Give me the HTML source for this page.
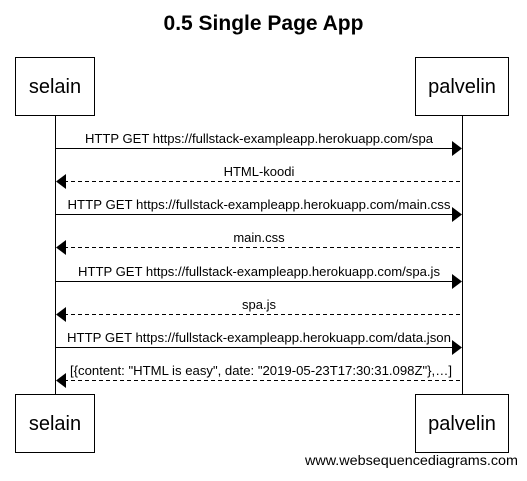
<!DOCTYPE html>
<html><head><style>body{margin:0;background:#fff}</style></head><body>
<svg width="527" height="476" xmlns="http://www.w3.org/2000/svg" font-family="Liberation Sans, Arial, sans-serif">
<rect width="527" height="476" fill="#fff"/>
<text x="263.5" y="30" font-size="21" font-weight="bold" text-anchor="middle">0.5 Single Page App</text>
<g stroke="#000" stroke-width="1" fill="#fff">
<rect x="15.5" y="57.5" width="79" height="58"/>
<rect x="415.5" y="57.5" width="93" height="58"/>
<rect x="15.5" y="394.5" width="79" height="58"/>
<rect x="415.5" y="394.5" width="93" height="58"/>
<line x1="55.5" y1="115.5" x2="55.5" y2="394.5"/>
<line x1="462.5" y1="115.5" x2="462.5" y2="394.5"/>
</g>
<g font-size="20" text-anchor="middle">
<text x="55" y="93">selain</text><text x="462" y="93">palvelin</text>
<text x="55" y="430">selain</text><text x="462" y="430">palvelin</text>
</g>
<g stroke="#000" stroke-width="1">
<line x1="55.5" y1="148.5" x2="453" y2="148.5"/>
<line x1="64" y1="181.5" x2="462.5" y2="181.5" stroke-dasharray="4,3"/>
<line x1="55.5" y1="214.5" x2="453" y2="214.5"/>
<line x1="64" y1="247.5" x2="462.5" y2="247.5" stroke-dasharray="4,3"/>
<line x1="55.5" y1="281.5" x2="453" y2="281.5"/>
<line x1="64" y1="314.5" x2="462.5" y2="314.5" stroke-dasharray="4,3"/>
<line x1="55.5" y1="347.5" x2="453" y2="347.5"/>
<line x1="64" y1="380.5" x2="462.5" y2="380.5" stroke-dasharray="4,3"/>
</g>
<g fill="#000">
<polygon points="452,141 462,148.5 452,156"/>
<polygon points="66,174 56,181.5 66,189"/>
<polygon points="452,207 462,214.5 452,222"/>
<polygon points="66,240 56,247.5 66,255"/>
<polygon points="452,274 462,281.5 452,289"/>
<polygon points="66,307 56,314.5 66,322"/>
<polygon points="452,340 462,347.5 452,355"/>
<polygon points="66,373 56,380.5 66,388"/>
</g>
<g font-size="13" text-anchor="middle">
<text x="259" y="143" textLength="348" lengthAdjust="spacingAndGlyphs">HTTP GET https://fullstack-exampleapp.herokuapp.com/spa</text>
<text x="259" y="176">HTML-koodi</text>
<text x="259" y="209" textLength="383" lengthAdjust="spacingAndGlyphs">HTTP GET https://fullstack-exampleapp.herokuapp.com/main.css</text>
<text x="259" y="242">main.css</text>
<text x="259" y="276" textLength="362" lengthAdjust="spacingAndGlyphs">HTTP GET https://fullstack-exampleapp.herokuapp.com/spa.js</text>
<text x="259" y="309">spa.js</text>
<text x="259" y="342" textLength="384" lengthAdjust="spacingAndGlyphs">HTTP GET https://fullstack-exampleapp.herokuapp.com/data.json</text>
<text x="261" y="375" textLength="382" lengthAdjust="spacingAndGlyphs">[{content: "HTML is easy", date: "2019-05-23T17:30:31.098Z"},…]</text>
</g>
<text x="518" y="465" font-size="14" text-anchor="end" textLength="213" lengthAdjust="spacingAndGlyphs">www.websequencediagrams.com</text>
</svg>
</body></html>
